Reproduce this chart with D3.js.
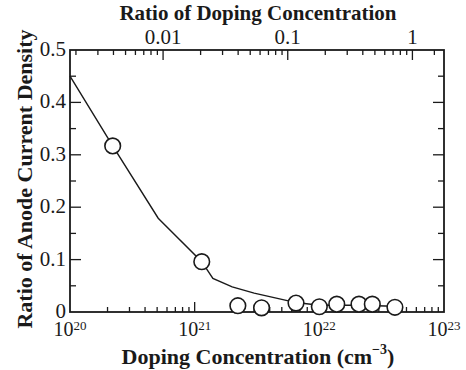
<!DOCTYPE html>
<html>
<head>
<meta charset="utf-8">
<script src="https://cdn.jsdelivr.net/npm/d3@7.8.5/dist/d3.min.js"></script>
<style>
  body { margin: 0; background: #fff; }
  svg { display: block; }
  text { font-family: "Liberation Serif", "Times New Roman", serif; fill: #1a1a1a; }
</style>
</head>
<body>
<div id="chart"></div>
<script>
// measured points (open circles)
const pointDoping = [2.2e20, 1.14e21, 2.22e21, 3.44e21, 6.5e21, 1.0e22, 1.38e22, 2.08e22, 2.66e22, 4.04e22];
const pointRatio = [0.317, 0.096, 0.012, 0.008, 0.017, 0.010, 0.015, 0.015, 0.015, 0.009];

// fitted curve
const lineDoping = [1e20, 2.2e20, 5.1e20, 1.14e21, 1.4e21, 2e21, 3e21, 5e21, 6.5e21, 1e22, 2e22, 4.04e22];
const lineRatio = [0.45, 0.317, 0.179, 0.096, 0.064, 0.048, 0.036, 0.024, 0.018, 0.013, 0.013, 0.011];

// axes
const bottomMajor = [1e20, 1e21, 1e22, 1e23];
const bottomLabels = ["20", "21", "22", "23"];
const topMajor = [0.01, 0.1, 1];
const topLabels = ["0.01", "0.1", "1"];
const topMinor = [0.002, 0.003, 0.004, 0.005, 0.006, 0.007, 0.008, 0.009,
  0.02, 0.03, 0.04, 0.05, 0.06, 0.07, 0.08, 0.09,
  0.2, 0.3, 0.4, 0.5, 0.6, 0.7, 0.8, 0.9, 1.5];
const yMajor = [0, 0.1, 0.2, 0.3, 0.4, 0.5];
const yMinor = [0.05, 0.15, 0.25, 0.35, 0.45];
const fullDoping = 5.58e22; // doping at ratio = 1

const width = 466, height = 370;
const margin = { top: 50, right: 22, bottom: 58, left: 70 };

const x = d3.scaleLog().domain([1e20, 1e23])
  .range([margin.left, width - margin.right]);
const xTop = d3.scaleLog().domain([1e20 / fullDoping, 1e23 / fullDoping])
  .range([margin.left, width - margin.right]);
const y = d3.scaleLinear().domain([0, 0.5])
  .range([height - margin.bottom, margin.top]);

const bottomMinor = [];
[1e20, 1e21, 1e22].forEach((d) => {
  for (let k = 2; k <= 9; k++) bottomMinor.push(d * k);
});

const svg = d3.select("#chart").append("svg")
  .attr("width", width).attr("height", height);

const ink = "#1a1a1a";
const x0 = margin.left, x1 = width - margin.right;
const y0 = height - margin.bottom, y1 = margin.top;

// ticks (all pointing inward)
const ticks = svg.append("g").attr("stroke", ink).attr("stroke-width", 1.3);
bottomMinor.forEach((d) => {
  ticks.append("line").attr("x1", x(d)).attr("x2", x(d)).attr("y1", y0).attr("y2", y0 - 5);
});
bottomMajor.slice(1, -1).forEach((d) => {
  ticks.append("line").attr("x1", x(d)).attr("x2", x(d)).attr("y1", y0).attr("y2", y0 - 10);
});
topMinor.forEach((d) => {
  ticks.append("line").attr("x1", xTop(d)).attr("x2", xTop(d)).attr("y1", y1).attr("y2", y1 + 5);
});
topMajor.forEach((d) => {
  ticks.append("line").attr("x1", xTop(d)).attr("x2", xTop(d)).attr("y1", y1).attr("y2", y1 + 10);
});
yMinor.forEach((d) => {
  ticks.append("line").attr("x1", x0).attr("x2", x0 + 6).attr("y1", y(d)).attr("y2", y(d));
  ticks.append("line").attr("x1", x1).attr("x2", x1 - 6).attr("y1", y(d)).attr("y2", y(d));
});
yMajor.slice(1, -1).forEach((d) => {
  ticks.append("line").attr("x1", x0).attr("x2", x0 + 11).attr("y1", y(d)).attr("y2", y(d));
  ticks.append("line").attr("x1", x1).attr("x2", x1 - 11).attr("y1", y(d)).attr("y2", y(d));
});

// frame
svg.append("rect")
  .attr("x", x0).attr("y", y1)
  .attr("width", x1 - x0).attr("height", y0 - y1)
  .attr("fill", "none").attr("stroke", ink).attr("stroke-width", 1.8);

// curve
const line = d3.line()
  .x((d) => x(d[0]))
  .y((d) => y(d[1]));
svg.append("path")
  .datum(lineDoping.map((d, i) => [d, lineRatio[i]]))
  .attr("d", line)
  .attr("fill", "none").attr("stroke", ink).attr("stroke-width", 1.4);

// circles
svg.append("g").selectAll("circle")
  .data(pointDoping.map((d, i) => [d, pointRatio[i]]))
  .join("circle")
  .attr("cx", (d) => x(d[0]))
  .attr("cy", (d) => y(d[1]))
  .attr("r", 7.8)
  .attr("fill", "#fff").attr("stroke", ink).attr("stroke-width", 1.6);

// y tick labels
svg.append("g").selectAll("text")
  .data(yMajor)
  .join("text")
  .attr("x", x0 - 4)
  .attr("y", (d) => y(d) + 6)
  .attr("text-anchor", "end")
  .style("font-size", "21px")
  .text((d) => (d === 0 ? "0" : d3.format(".1f")(d)));

// bottom tick labels (10^n)
bottomMajor.forEach((d, i) => {
  const t = svg.append("text")
    .attr("x", x(d))
    .attr("y", y0 + 24)
    .attr("text-anchor", "middle")
    .style("font-size", "20px");
  t.append("tspan").text("10");
  t.append("tspan").attr("dy", -6).style("font-size", "13px").text(bottomLabels[i]);
});

// top tick labels
svg.append("g").selectAll("text")
  .data(topMajor)
  .join("text")
  .attr("x", (d) => xTop(d))
  .attr("y", y1 - 6)
  .attr("text-anchor", "middle")
  .style("font-size", "21px")
  .text((d, i) => topLabels[i]);

// axis titles
svg.append("text")
  .attr("x", 258).attr("y", 20)
  .attr("text-anchor", "middle")
  .style("font-size", "21px").style("font-weight", "bold")
  .text("Ratio of Doping Concentration");

const xt = svg.append("text")
  .attr("x", 258).attr("y", 364)
  .attr("text-anchor", "middle")
  .style("font-size", "22px").style("font-weight", "bold");
xt.append("tspan").text("Doping Concentration (cm");
xt.append("tspan").attr("dy", -10).style("font-size", "14px").text("−3");
xt.append("tspan").attr("dy", 10).text(")");

svg.append("text")
  .attr("transform", "translate(32, 179) rotate(-90)")
  .attr("text-anchor", "middle")
  .style("font-size", "22px").style("font-weight", "bold")
  .text("Ratio of Anode Current Density");
</script>
</body>
</html>
